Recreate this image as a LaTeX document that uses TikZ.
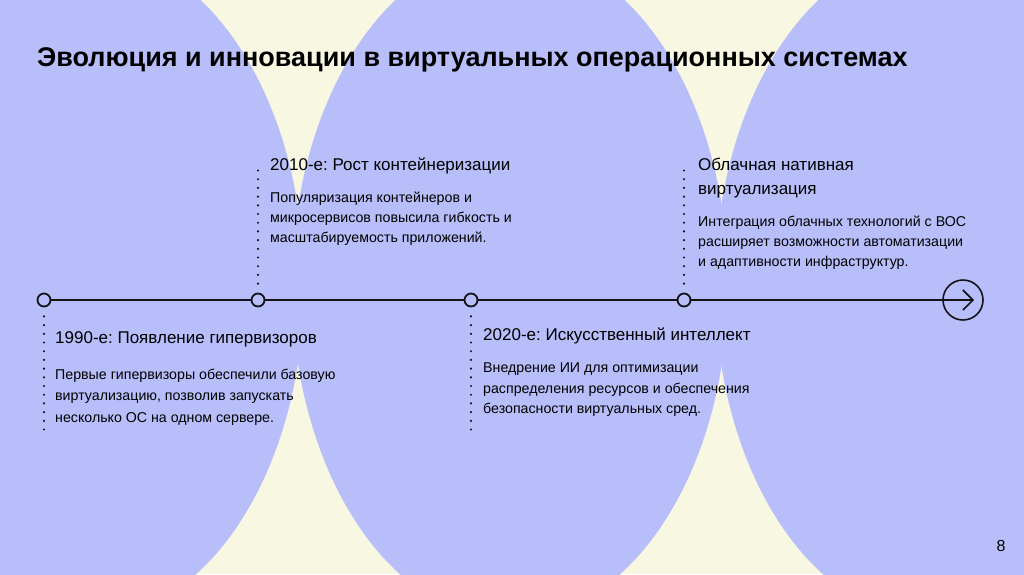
\documentclass[tikz,border=0pt]{standalone}
\usepackage{fontspec}
\setmainfont{Liberation Sans}
\usepackage{tikz}
\usetikzlibrary{arrows.meta, positioning, calc}
\frenchspacing
\definecolor{mylav}{RGB}{183,190,250}
\definecolor{mycream}{RGB}{248,247,226}
\definecolor{myink}{RGB}{20,20,24}
\tikzset{
  dot/.style={circle, draw=myink, fill=mylav, minimum size=13pt,
    inner sep=0pt, line width=1.8pt},
  enddot/.style={circle, draw=myink, minimum size=40pt,
    inner sep=0pt, line width=1.6pt},
  dotline/.style={draw=myink, line width=2.4pt, line cap=round,
    dash pattern=on 0pt off 8.7pt},
  heading/.style={anchor=base west, inner sep=0pt, align=left,
    font=\fontsize{17}{24}\selectfont},
  bodytext/.style={anchor=base west, inner sep=0pt, align=left,
    font=\fontsize{14.2}{19.8}\selectfont},
  line/.style={line width=1.6pt, color=myink}
}

\begin{document}
\begin{tikzpicture}[x=1pt, y=-1pt]
  \useasboundingbox (0,0) rectangle (1024,574);
  \fill[mycream] (0,0) rectangle (1024,574);
  \begin{scope}
    \clip (0,0) rectangle (1024,574);
    \fill[mylav] (86,285) ellipse [x radius=218, y radius=335];
    \fill[mylav] (510,285) ellipse [x radius=218, y radius=335];
    \fill[mylav] (933,285) ellipse [x radius=218, y radius=335];
  \end{scope}

  \node[anchor=base west, inner sep=0pt, font=\bfseries\fontsize{27}{32}\selectfont]
    (ttl) at (37,66) {Эволюция и инновации в виртуальных операционных системах};

  % timeline
  \node[dot] (t1) at (44,300) {};
  \node[dot] (t2) at (258,300) {};
  \node[dot] (t3) at (471,300) {};
  \node[dot] (t4) at (684,300) {};
  \node[enddot] (tend) at (963,300) {};
  \coordinate (tip) at ($(tend.center)+(11,0)$);

  \draw[line] (t1) -- (t2);
  \draw[line] (t2) -- (t3);
  \draw[line] (t3) -- (t4);
  \draw[line, -{Straight Barb[length=10pt, width=20pt]}] (t4) -- (tip);

  \coordinate (d1) at (44,432);
  \coordinate (d2) at (258,162);
  \coordinate (d3) at (471,432);
  \coordinate (d4) at (684,162);
  \draw[dotline, shorten <=9pt] (t1) -- (d1);
  \draw[dotline, shorten <=9pt] (t2) -- (d2);
  \draw[dotline, shorten <=9pt] (t3) -- (d3);
  \draw[dotline, shorten <=9pt] (t4) -- (d4);

  % labels (base = last line)
  \node[heading] (h1) at (55,343) {1990-е: Появление гипервизоров};
  \node[bodytext, font=\fontsize{14.2}{21.5}\selectfont] (b1) at (55,422)
    {Первые гипервизоры обеспечили базовую\\виртуализацию, позволив запускать\\несколько ОС на одном сервере.};

  \node[heading] (h2) at (270,170) {2010-е: Рост контейнеризации};
  \node[bodytext] (b2) at (270,242.5)
    {Популяризация контейнеров и\\микросервисов повысила гибкость и\\масштабируемость приложений.};

  \node[heading] (h3) at (483,340) {2020-е: Искусственный интеллект};
  \node[bodytext, font=\fontsize{14.2}{20.3}\selectfont] (b3) at (483,413.5)
    {Внедрение ИИ для оптимизации\\распределения ресурсов и обеспечения\\безопасности виртуальных сред.};

  \node[heading] (h4) at (698,194) {Облачная нативная\\виртуализация};
  \node[bodytext] (b4) at (698,266.5)
    {Интеграция облачных технологий с ВОС\\расширяет возможности автоматизации\\и адаптивности инфраструктур.};

  \node[anchor=base, inner sep=0pt, font=\fontsize{16}{19}\selectfont] (pg) at (1001,551) {8};
\end{tikzpicture}
\end{document}
